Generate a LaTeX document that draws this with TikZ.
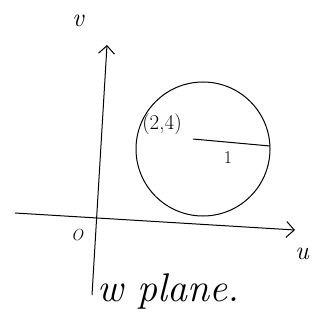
\documentclass[tikz,border=0pt]{standalone}
\usetikzlibrary{arrows.meta}
\begin{document}
\begin{tikzpicture}[x=1pt,y=-1pt,line width=1pt,
    lbl/.style={font=\fontsize{26}{30}\selectfont\itshape}]
            \useasboundingbox (0,0) rectangle (321,336);
            \draw[-{Straight Barb[length=8pt,width=16pt]}] (92,295) -- (107,45);
            \draw[-{Straight Barb[length=8pt,width=16pt]}] (15,213) -- (295,230);
            \node[lbl] (v) at (78,21) {v};
            \node[lbl] (u) at (302,254) {u};
            \draw (203,149) circle (67);
            \coordinate (c) at (193,139);
            \coordinate (r) at (270,146);
            \draw (c) -- (r);
            \node[font=\fontsize{21}{24}\selectfont] (cl) at (162,124) {(2,4)};
            \node[font=\fontsize{18}{20}\selectfont] (one) at (228,158) {1};
            \node[font=\fontsize{16}{18}\selectfont\itshape] (o) at (77,235) {O};
            \node[font=\fontsize{40}{44}\selectfont\itshape] (wp) at (168,291) {w plane.};
        \end{tikzpicture}
\end{document}
